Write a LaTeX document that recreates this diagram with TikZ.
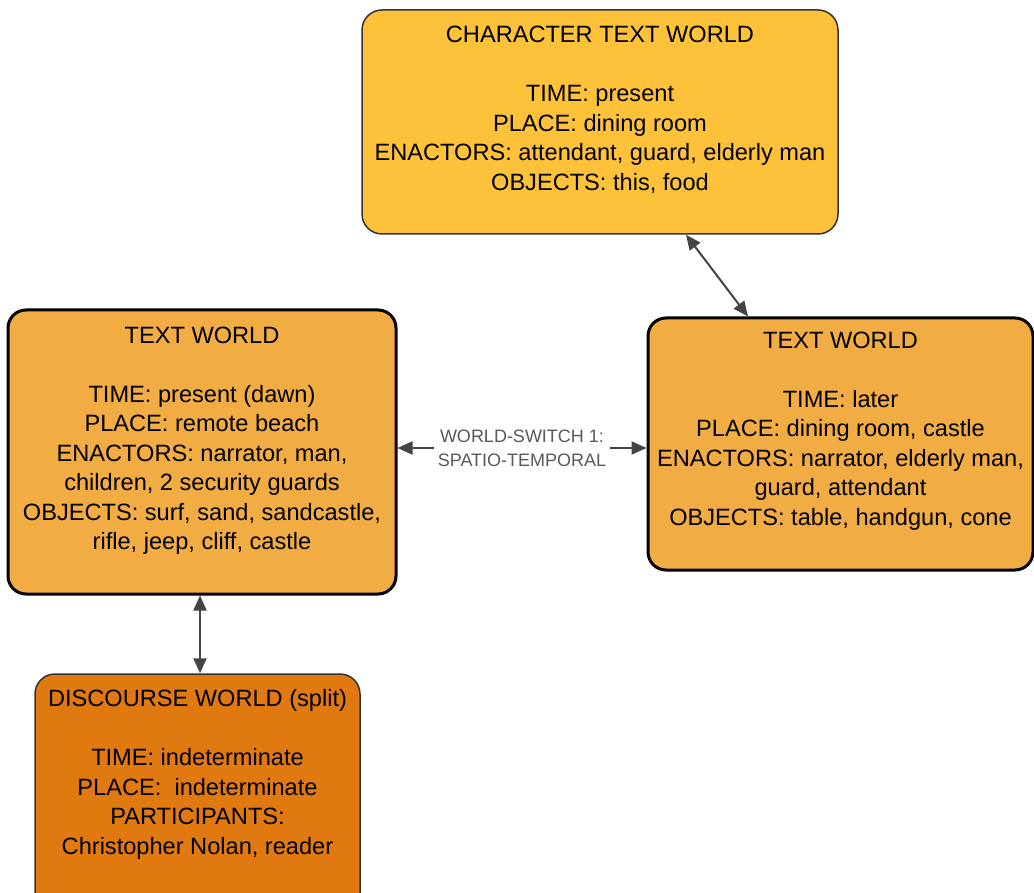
\documentclass[tikz,border=0pt]{standalone}
\usepackage{fontspec}
\setmainfont{Liberation Sans}
\usetikzlibrary{arrows.meta,positioning}
\definecolor{chrfill}{HTML}{FDC23A}
\definecolor{twfill}{HTML}{F1AC44}
\definecolor{dwfill}{HTML}{E07A10}
\definecolor{linkgray}{HTML}{454545}

\begin{document}
\begin{tikzpicture}[x=1pt,y=-1pt,
  world/.style={rectangle,rounded corners=18pt,draw=black,line width=3pt,fill=twfill},
  thinworld/.style={rectangle,rounded corners=20pt,draw=black!80,line width=1.5pt},
  worldtext/.style={inner sep=0pt,align=center,font=\fontsize{23.6}{29.5}\selectfont},
  link/.style={{Triangle[length=15pt,width=13pt]}-{Triangle[length=15pt,width=13pt]},line width=2pt,draw=linkgray},
  swlabel/.style={fill=white,inner xsep=4pt,inner ysep=1pt,align=center,text=black!65,font=\fontsize{18}{24}\selectfont}]
  \fill[white] (0,0) rectangle (1034,893);
  \useasboundingbox (0,0) rectangle (1034,893);
  \clip (0,0) rectangle (1034,893);

  % boxes
  \node[thinworld,fill=chrfill,minimum width=476pt,minimum height=224pt] (ctw) at (600,122) {};
  \node[world,minimum width=388pt,minimum height=284pt] (ltw) at (202,452) {};
  \node[world,minimum width=385pt,minimum height=252pt] (rtw) at (840.5,444) {};
  \node[thinworld,fill=dwfill,minimum width=325pt,minimum height=240pt] (dw) at (197.5,794) {};

  % texts
  \node[worldtext,below=17pt of ctw.north] (ctwtext)
       {CHARACTER TEXT WORLD\\[29.5pt]TIME: present\\PLACE: dining room\\
        ENACTORS: attendant, guard, elderly man\\OBJECTS: this, food};
  \node[worldtext,below=18pt of ltw.north] (ltwtext)
       {TEXT WORLD\\[29.5pt]TIME: present (dawn)\\PLACE: remote beach\\
        ENACTORS: narrator, man,\\children, 2 security guards\\
        OBJECTS: surf, sand, sandcastle,\\rifle, jeep, cliff, castle};
  \node[worldtext,below=15pt of rtw.north] (rtwtext)
       {TEXT WORLD\\[29.5pt]TIME: later\\PLACE: dining room, castle\\
        ENACTORS: narrator, elderly man,\\guard, attendant\\
        OBJECTS: table, handgun, cone};
  \node[worldtext,below=16pt of dw.north] (dwtext)
       {DISCOURSE WORLD (split)\\[29.5pt]TIME: indeterminate\\PLACE: \ indeterminate\\
        PARTICIPANTS:\\Christopher Nolan, reader};

  % connectors
  \coordinate (sw) at (522,448);
  \draw[link] (ltw.east |- sw) -- node[swlabel] (swtext) {WORLD-SWITCH 1:\\SPATIO-TEMPORAL} (rtw.west |- sw);
  \draw[link] ([xshift=86pt]ctw.south) -- ([xshift=-92.5pt]rtw.north);
  \draw[link] ([xshift=-2pt]ltw.south) -- ([xshift=2.5pt]dw.north);
\end{tikzpicture}
\end{document}
